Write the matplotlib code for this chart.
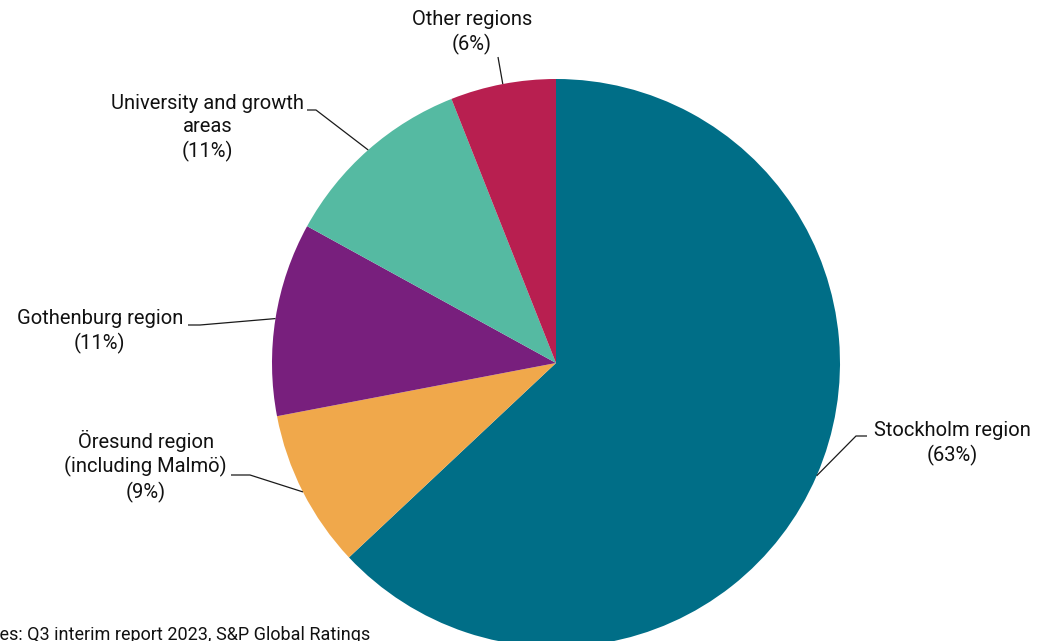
import matplotlib
matplotlib.use("Agg")
import matplotlib.pyplot as plt
import numpy as np

# Data
categories = ["Stockholm region", "Öresund region\n(including Malmö)", "Gothenburg region",
              "University and growth\nareas", "Other regions"]
shares = [63, 9, 11, 11, 6]
colors = ["#006E87", "#F0A84B", "#781F7D", "#55BAA2", "#B81F50"]
source_text = "Sources: Q3 interim report 2023, S&P Global Ratings"

W, H = 1037, 641
plt.rcParams['font.family'] = ['Roboto', 'DejaVu Sans']

fig = plt.figure(figsize=(W / 100, H / 100), dpi=100)
ax = fig.add_axes([0, 0, 1, 1])

def Y(y):
    return H - y

cx, cy, r = 556, Y(363), 284
wedges, _ = ax.pie(shares, colors=colors, startangle=90, counterclock=False,
                   center=(cx, cy), radius=r, wedgeprops=dict(linewidth=0))
ax.set_xlim(0, W)
ax.set_ylim(0, H)
ax.set_aspect('equal')
ax.axis('off')

# label layout: (elbow x, elbow y, end x, text x, last-line baseline y, ha)
layout = [
    (856, 436, 867, 952, 461, 'center'),
    (250, 475, 231, 227, 498, 'right'),
    (200, 325, 188, 183, 349, 'right'),
    (316, 110, 307, 304, 157, 'right'),
    (498, 57, 498, 472, 50, 'center'),
]

fs = 14.5
for w, cat, pct, (ex, ey, hx, tx, ty, ha) in zip(wedges, categories, shares, layout):
    mid = np.deg2rad((w.theta1 + w.theta2) / 2)
    px = cx + r * np.cos(mid)
    py = cy + r * np.sin(mid)
    ax.plot([px, ex, hx], [py, Y(ey), Y(ey)], color="#1a1a1a", lw=0.9,
            solid_capstyle='butt', clip_on=False)
    ax.text(tx, Y(ty), f"{cat}\n({pct}%)", ha=ha, va='baseline', multialignment='center',
            fontsize=fs, color="#111111", linespacing=1.27)

ax.text(370, Y(640), source_text, ha='right', va='baseline', fontsize=13, color="#111111")

fig.savefig("out.png", dpi=100)
